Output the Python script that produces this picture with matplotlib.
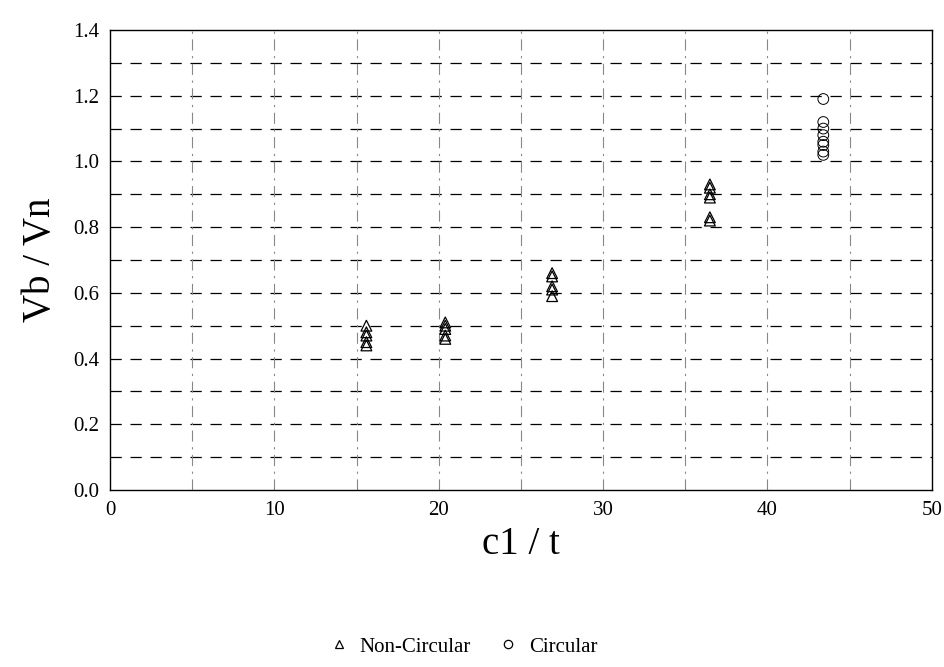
import numpy as np
import matplotlib.pyplot as plt
from matplotlib.lines import Line2D

# Non-circular columns: c1/t and measured Vb/Vn
nc_x = [15.6, 15.6, 15.6, 15.6, 15.6,
        20.4, 20.4, 20.4, 20.4, 20.4,
        26.9, 26.9, 26.9, 26.9, 26.9,
        36.5, 36.5, 36.5, 36.5, 36.5, 36.5]
nc_y = [0.50, 0.48, 0.47, 0.45, 0.44,
        0.51, 0.50, 0.49, 0.47, 0.46,
        0.66, 0.65, 0.62, 0.61, 0.59,
        0.93, 0.92, 0.90, 0.89, 0.83, 0.82]

# Circular columns
c_x = [43.4, 43.4, 43.4, 43.4, 43.4, 43.4, 43.4, 43.4]
c_y = [1.19, 1.12, 1.10, 1.08, 1.06, 1.05, 1.03, 1.02]

x_ticks = [0, 10, 20, 30, 40, 50]
y_ticks = [0.0, 0.2, 0.4, 0.6, 0.8, 1.0, 1.2, 1.4]

plt.rcParams['font.family'] = ['Liberation Serif', 'DejaVu Serif']

fig = plt.figure(figsize=(9.45, 6.67), dpi=100)
ax = fig.add_axes([0.1164, 0.2654, 0.8696, 0.6896])

# Grid: dashed horizontals every 0.1, dash-dot verticals every 5
for yv in np.arange(0.1, 1.4, 0.1):
    ax.axhline(yv, color='black', lw=0.9, linestyle=(0, (9, 7)), zorder=1)
for xv in np.arange(5, 50, 5):
    ax.axvline(xv, color='#888888', lw=0.8, linestyle=(0, (10, 5, 2, 5)), zorder=1)

ax.scatter(nc_x, nc_y, marker='^', s=60, facecolors='none', edgecolors='black',
           linewidths=0.9, zorder=3)
ax.scatter(c_x, c_y, marker='o', s=60, facecolors='none', edgecolors='black',
           linewidths=0.7, zorder=3)

ax.set_xlim(0, 50)
ax.set_ylim(0, 1.4)
ax.set_xticks(x_ticks)
ax.set_yticks(y_ticks)
ax.set_yticklabels([f'{v:.1f}' for v in y_ticks])
ax.tick_params(axis='both', labelsize=15, length=0, pad=8)

ax.set_xlabel('c1 / t', fontsize=28, labelpad=4)
ax.set_ylabel('Vb / Vn', fontsize=28, labelpad=10)

for sp in ax.spines.values():
    sp.set_linewidth(1.0)
    sp.set_color('black')

handles = [
    Line2D([], [], marker='^', linestyle='none', markerfacecolor='none',
           markeredgecolor='black', markersize=6, markeredgewidth=0.9),
    Line2D([], [], marker='o', linestyle='none', markerfacecolor='none',
           markeredgecolor='black', markersize=6, markeredgewidth=0.9),
]
fig.legend(handles, ['Non-Circular', 'Circular'], loc='center',
           bbox_to_anchor=(0.49, 0.03), ncol=2, frameon=False, fontsize=15,
           handlelength=1.0, handletextpad=0.5, columnspacing=1.3)

fig.savefig('out.png', dpi=100)
